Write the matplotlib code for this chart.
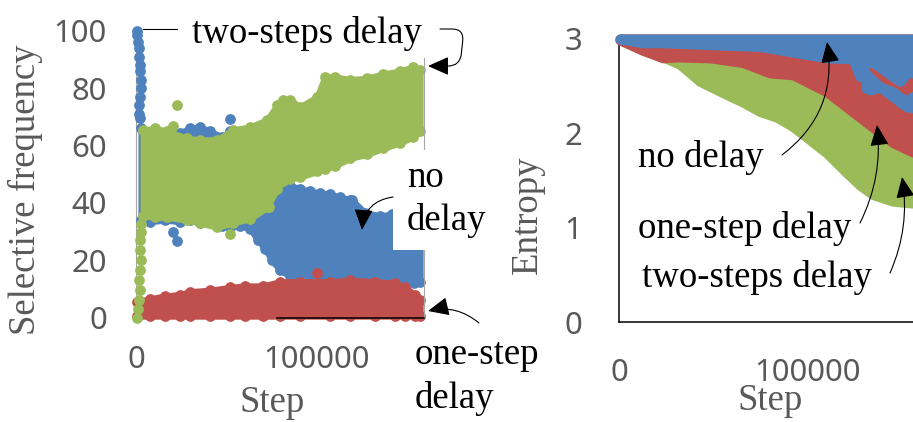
import matplotlib
matplotlib.use("Agg")
import matplotlib.pyplot as plt
import numpy as np
from matplotlib.patches import FancyArrowPatch, Rectangle
from matplotlib.lines import Line2D

W, H = 913, 422
DPI = 100

BLUE = "#4F81BD"
RED = "#C0504D"
GREEN = "#9BBB59"
GREY = "#595959"
SPINE_GREY = "#A6A6A6"
SERIF = "Liberation Serif"
SANS = "Noto Sans"

# ---------------- Selective frequency (left panel) ----------------
# no delay: early column near step 0
nd_col_step = [400, 700, 1000, 1500, 1800, 2000, 2200, 2500, 2800, 2400, 1800, 1500, 2200]
nd_col_val = [100, 98.5, 96, 94, 91, 88, 86, 83, 80, 77, 74, 71, 69.5]
# no delay: cloud envelope (lowest / highest value at each step)
nd_step = [2800, 7700, 16000, 24300, 29800, 35400, 40900, 47500, 51900, 57500,
           63000, 67400, 71300, 75100, 79600, 85100, 90600, 96100, 101700, 107200,
           112700, 119300, 126500, 134800, 141400, 148600, 153600, 156900]
nd_low = [34, 33.5, 34, 33.5, 34, 33, 33.5, 32, 31.5, 32,
          31, 27, 24, 20, 16.5, 14.5, 14.5, 15, 14.5, 14,
          13.5, 13, 12.5, 12, 12, 12, 12, 12.5]
nd_high = [66, 64, 63.5, 64.5, 66, 66.5, 65, 63, 65, 63,
           62, 55, 50, 48, 47, 46, 45, 44, 43.5, 43,
           42, 41, 36.5, 35.5, 36, 34, 33, 30]
nd_out_step = [20400, 22700, 51900, 118200]
nd_out_val = [29.8, 26.7, 69.3, 41]

# one-step delay
os_step = [500, 7700, 16000, 24300, 29800, 40900, 51900, 60200, 70200, 79600,
           90600, 107200, 118300, 132000, 143100, 148600, 154100, 156900]
os_low = [0.5, 0.5, 0.5, 0.5, 0.5, 0.5, 0.5, 0.5, 0.5, 0.5,
          0.5, 0.5, 0.5, 0.5, 0.5, 0.5, 0.5, 0.5]
os_high = [5.5, 6.5, 7.5, 8, 9, 9.5, 10.5, 11, 11, 12.5,
           12.5, 12.5, 13, 12.5, 12, 10.5, 8, 6]
os_out_step = [100000]
os_out_val = [15.5]

# two-steps delay: early column near step 0
ts_col_step = [800, 1000, 1500, 2000, 1800, 2200, 2500, 2000, 2200, 2500, 2800]
ts_col_val = [0, 3, 6, 9.5, 13, 16.5, 20, 23.5, 27, 30, 32.5]
ts_step = [3900, 10500, 17100, 28200, 35400, 44800, 53600, 63000, 72400, 77900,
           81200, 85100, 90600, 100000, 104400, 109900, 118200, 127600, 136500, 145900,
           153000, 156900]
ts_low = [35.5, 35, 35, 34, 33, 31.5, 33, 34.5, 38.5, 45,
          47.5, 48.5, 49, 51, 52, 53, 55.5, 57, 59, 61,
          63, 65]
ts_high = [65.5, 66, 65, 62.5, 62, 62, 65.5, 66.5, 69, 74,
           76, 76, 73.5, 77, 84, 84, 83, 83.5, 85, 86,
           87.5, 86.5]
ts_out_step = [22700, 20400, 51900, 73500]
ts_out_val = [74, 67, 29, 38.5]

# ---------------- Entropy (right panel) ----------------
ent_nd_step = [500, 12700, 23300, 48100, 74600, 92100, 110000, 123800, 127500,
               130700, 132800, 138100, 145000, 148700, 152400, 155600, 158500]
ent_nd_low = [3.00, 2.96, 2.96, 2.94, 2.92, 2.86, 2.80, 2.79, 2.60,
              2.48, 2.46, 2.49, 2.39, 2.33, 2.28, 2.27, 2.27]
# split of the no-delay cloud into an upper and a lower part
ent_nd_gap_hi = [np.nan] * 9 + [2.74, 2.77, 2.70, 2.60, 2.55, 2.64, 2.64, 2.64]
ent_nd_gap_lo = [np.nan] * 9 + [2.63, 2.59, 2.49, 2.44, 2.38, 2.35, 2.39, 2.39]

ent_os_step = [500, 12700, 23300, 30700, 48100, 65600, 79900, 92100, 110000,
               127500, 145000, 155600, 158500]
ent_os_low = [2.99, 2.88, 2.80, 2.81, 2.80, 2.75, 2.64, 2.62, 2.44,
              2.17, 1.90, 1.80, 1.79]

ent_ts_step = [500, 12700, 23300, 32300, 42900, 57100, 65600, 74600, 83600,
               92100, 101100, 110000, 120600, 127500, 134400, 145000, 155600, 158500]
ent_ts_low = [2.99, 2.88, 2.81, 2.73, 2.55, 2.41, 2.33, 2.23, 2.17,
              2.07, 1.93, 1.79, 1.58, 1.45, 1.35, 1.28, 1.26, 1.26]
ENT_TOP = 3.0

freq_yticks = [0, 20, 40, 60, 80, 100]
ent_yticks = [0, 1, 2, 3]
step_ticks = [0, 100000]
step_ticklabels = ["0", "100000"]

MS = 60          # marker area (pt^2)
EDGE = 4.5       # outline width of the filled clouds (pt)
EDGE_R = 7.2     # outline width of the entropy bands (pt)


def fx(px):
    return px / W


def fy(py):
    return 1 - py / H


def cloud(ax, steps, low, high, color, z):
    ax.fill_between(steps, low, high, facecolor=color, edgecolor=color,
                    linewidth=EDGE, joinstyle="round", clip_on=False, zorder=z)
    ax.scatter(steps, low, s=MS, color=color, linewidths=0, clip_on=False, zorder=z)
    ax.scatter(steps, high, s=MS, color=color, linewidths=0, clip_on=False, zorder=z)


fig = plt.figure(figsize=(W / DPI, H / DPI), dpi=DPI)
fig.patch.set_facecolor("white")

# ---------- left axes ----------
ax1 = fig.add_axes([fx(136), fy(317.5), (424 - 136) / W, (317.5 - 31) / H])
ax1.set_xlim(0, 159100)
ax1.set_ylim(0, 100)
ax1.patch.set_visible(False)

cloud(ax1, nd_step, nd_low, nd_high, BLUE, 1.0)
ax1.scatter(nd_col_step, nd_col_val, s=MS, color=BLUE, linewidths=0, clip_on=False, zorder=1.0)
ax1.scatter(nd_out_step, nd_out_val, s=MS, color=BLUE, linewidths=0, clip_on=False, zorder=1.0)

cloud(ax1, os_step, os_low, os_high, RED, 1.5)
ax1.scatter(os_out_step, os_out_val, s=MS, color=RED, linewidths=0, clip_on=False, zorder=1.5)

cloud(ax1, ts_step, ts_low, ts_high, GREEN, 2.0)
ax1.scatter(ts_col_step, ts_col_val, s=MS, color=GREEN, linewidths=0, clip_on=False, zorder=2.0)
ax1.scatter(ts_out_step, ts_out_val, s=MS, color=GREEN, linewidths=0, clip_on=False, zorder=2.0)

ax1.spines["top"].set_visible(False)
ax1.spines["left"].set_color(SPINE_GREY)
ax1.spines["left"].set_zorder(0.5)
ax1.spines["right"].set_color(SPINE_GREY)
ax1.spines["right"].set_bounds(0, 90.5)
ax1.spines["right"].set_zorder(5)
ax1.spines["bottom"].set_color("black")
ax1.spines["bottom"].set_linewidth(1.1)
ax1.spines["bottom"].set_bounds(77900, 159100)
ax1.spines["bottom"].set_zorder(5)

ax1.set_yticks(freq_yticks, labels=[str(v) for v in freq_yticks],
               fontfamily=SANS, fontsize=22.4, color=GREY)
ax1.set_xticks(step_ticks, labels=step_ticklabels,
               fontfamily=SANS, fontsize=22.4, color=GREY)
ax1.tick_params(axis="y", length=0, pad=21)
ax1.tick_params(axis="x", length=0, pad=20)

# ---------- right axes ----------
ax2 = fig.add_axes([fx(619), fy(322), 1.6 * 189 / W, (322 - 39) / H])
ax2.set_xlim(0, 160000)
ax2.set_ylim(0, 3)
ax2.patch.set_visible(False)

kw = dict(linewidth=EDGE_R, joinstyle="round", clip_on=False)
ax2.fill_between(ent_ts_step, ent_ts_low, ENT_TOP, facecolor=GREEN, edgecolor=GREEN, zorder=1.0, **kw)
ax2.fill_between(ent_os_step, ent_os_low, ENT_TOP, facecolor=RED, edgecolor=RED, zorder=1.5, **kw)

nd_s = np.array(ent_nd_step, dtype=float)
nd_l = np.array(ent_nd_low, dtype=float)
gap_hi = np.array(ent_nd_gap_hi, dtype=float)
gap_lo = np.array(ent_nd_gap_lo, dtype=float)
split = ~np.isnan(gap_hi)
upper_floor = np.where(split, gap_hi, nd_l)
ax2.fill_between(nd_s, upper_floor, ENT_TOP, facecolor=BLUE, edgecolor=BLUE, zorder=2.0, **kw)
ax2.fill_between(nd_s[split], nd_l[split], gap_lo[split], facecolor=BLUE, edgecolor=BLUE, zorder=2.0, **kw)

for side in ("top", "right"):
    ax2.spines[side].set_visible(False)
for side in ("left", "bottom"):
    ax2.spines[side].set_color("black")
    ax2.spines[side].set_linewidth(1.1)
ax2.spines["left"].set_zorder(0.5)

ax2.set_yticks(ent_yticks, labels=[str(v) for v in ent_yticks],
               fontfamily=SANS, fontsize=22.4, color=GREY)
ax2.set_xticks(step_ticks, labels=step_ticklabels,
               fontfamily=SANS, fontsize=22.4, color=GREY)
ax2.tick_params(axis="y", length=0, pad=26.6)
ax2.tick_params(axis="x", length=0, pad=25.6)

# ---------- axis titles ----------
TS = 26.5
fig.text(fx(25), fy(190), "Selective frequency", rotation=90, ha="center", va="center",
         fontfamily=SERIF, fontsize=TS, color=GREY)
fig.text(fx(272), fy(403), "Step", ha="center", va="center",
         fontfamily=SERIF, fontsize=TS, color=GREY)
fig.text(fx(528), fy(215), "Entropy", rotation=90, ha="center", va="center",
         fontfamily=SERIF, fontsize=TS, color=GREY)
fig.text(fx(770), fy(401), "Step", ha="center", va="center",
         fontfamily=SERIF, fontsize=TS, color=GREY)

# ---------- annotations ----------
# white backing behind the "no delay" label
fig.patches.append(Rectangle((fx(393), fy(250)), (470 - 393) / W, (250 - 150) / H,
                             transform=fig.transFigure, facecolor="white",
                             edgecolor="none", zorder=1))


def label(px, py, s):
    fig.text(fx(px), fy(py), s, ha="left", va="baseline",
             fontfamily=SERIF, fontsize=TS, color="black", zorder=4)


def arrow(a, b, style):
    p = FancyArrowPatch((fx(a[0]), fy(a[1])), (fx(b[0]), fy(b[1])),
                        transform=fig.transFigure, connectionstyle=style,
                        arrowstyle="-|>,head_length=1.3,head_width=0.58",
                        mutation_scale=10, linewidth=0.8, color="black",
                        shrinkA=0, shrinkB=0, zorder=5)
    fig.patches.append(p)


label(192, 43, "two-steps delay")
label(407, 187, "no")
label(407, 230, "delay")
label(415, 364, "one-step")
label(415, 408, "delay")

label(638, 167, "no delay")
label(638, 238, "one-step delay")
label(642, 287, "two-steps delay")

fig.lines.append(Line2D([fx(143), fx(177)], [fy(29), fy(29)], transform=fig.transFigure,
                        color="black", linewidth=0.8))

arrow((440, 29), (428, 66), "arc,angleA=0,angleB=0,armA=24,armB=32,rad=12")
arrow((393, 197), (362, 230), "arc3,rad=0.4")
arrow((479, 323), (428, 311), "arc3,rad=0.25")

arrow((782, 155), (827, 42), "arc3,rad=0.3")
arrow((860, 223), (877, 125), "arc3,rad=0.15")
arrow((890, 273), (902, 177), "arc3,rad=0.15")

fig.savefig("out.png", dpi=DPI, facecolor="white")
